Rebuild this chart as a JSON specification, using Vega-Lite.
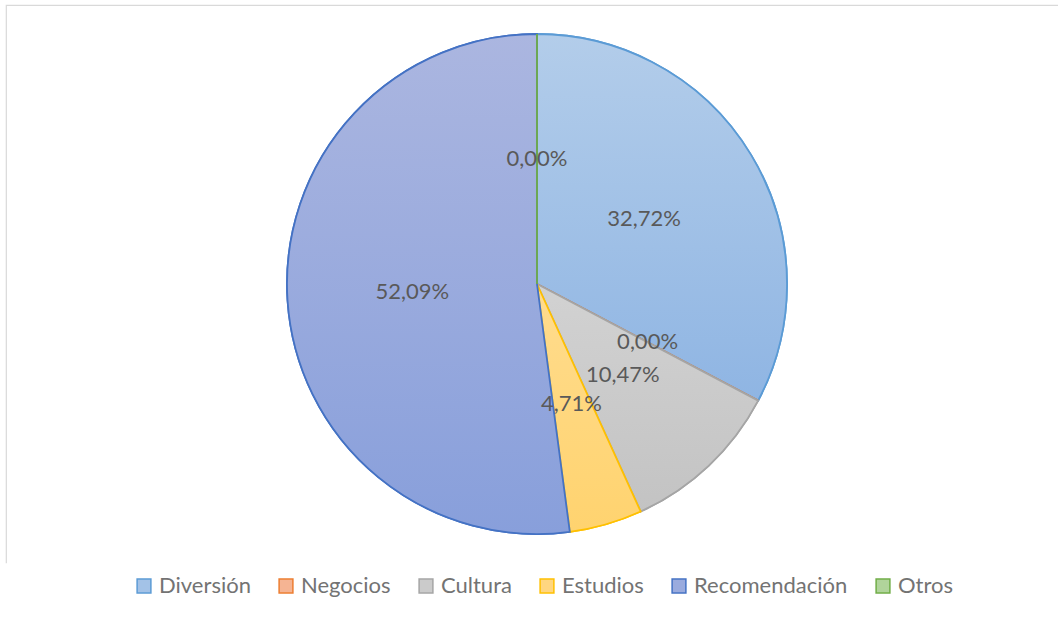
{
  "$schema": "https://vega.github.io/schema/vega-lite/v6.json",
  "width": 1062,
  "height": 558,
  "padding": {"left": 6, "top": 5, "right": 0, "bottom": 58},
  "autosize": {"type": "none"},
  "background": "white",
  "view": {"stroke": "#d9d9d9", "strokeWidth": 1.2, "strokeDash": [1620, 1062, 560, 20]},
  "config": {
    "font": "Lato"
  },
  "data": {
    "values": [
      {"idx": 1, "cat": "Diversión", "value": 32.72, "label": "32,72%"},
      {"idx": 2, "cat": "Negocios", "value": 0, "label": "0,00%"},
      {"idx": 3, "cat": "Cultura", "value": 10.47, "label": "10,47%"},
      {"idx": 4, "cat": "Estudios", "value": 4.71, "label": "4,71%"},
      {"idx": 5, "cat": "Recomendación", "value": 52.09, "label": "52,09%"},
      {"idx": 6, "cat": "Otros", "value": 0, "label": "0,00%"}
    ]
  },
  "encoding": {
    "theta": {"field": "value", "type": "quantitative", "stack": true},
    "order": {"field": "idx", "type": "quantitative"}
  },
  "layer": [
    {
      "mark": {"type": "arc", "outerRadius": 250, "strokeWidth": 1.8},
      "encoding": {
        "fill": {
          "field": "cat",
          "type": "nominal",
          "sort": null,
          "scale": {
            "domain": ["Diversión", "Negocios", "Cultura", "Estudios", "Recomendación", "Otros"],
            "range": ["#a3c2e7", "#f5b493", "#cbcbcb", "#ffd680", "#9aabde", "#b0d49b"]
          },
          "legend": {
            "title": null,
            "orient": "none",
            "legendX": 127,
            "legendY": 570,
            "direction": "horizontal",
            "symbolType": "square",
            "symbolSize": 190,
            "symbolStrokeWidth": 1.5,
            "labelFontSize": 22,
            "labelColor": "#737373",
            "labelFont": "Lato",
            "labelOffset": 4,
            "columnPadding": 24,
            "padding": 0
          }
        },
        "stroke": {
          "field": "cat",
          "type": "nominal",
          "sort": null,
          "scale": {
            "domain": ["Diversión", "Negocios", "Cultura", "Estudios", "Recomendación", "Otros"],
            "range": ["#5b9bd5", "#ed7d31", "#a5a5a5", "#ffc000", "#4472c4", "#70ad47"]
          }
        }
      }
    },
    {
      "mark": {"type": "arc", "outerRadius": 250, "strokeWidth": 1.8},
      "encoding": {
        "fill": {
          "condition": [
            {"test": "datum.cat === 'Diversión'", "value": {"gradient": "linear", "x1": 0, "y1": 0, "x2": 0, "y2": 1, "stops": [{"offset": 0, "color": "#b3cdea"}, {"offset": 1, "color": "#8fb5e3"}]}},
            {"test": "datum.cat === 'Negocios'", "value": {"gradient": "linear", "x1": 0, "y1": 0, "x2": 0, "y2": 1, "stops": [{"offset": 0, "color": "#f7c0a4"}, {"offset": 1, "color": "#f3a77f"}]}},
            {"test": "datum.cat === 'Cultura'", "value": {"gradient": "linear", "x1": 0, "y1": 0, "x2": 0, "y2": 1, "stops": [{"offset": 0, "color": "#d2d2d2"}, {"offset": 1, "color": "#c3c3c3"}]}},
            {"test": "datum.cat === 'Estudios'", "value": {"gradient": "linear", "x1": 0, "y1": 0, "x2": 0, "y2": 1, "stops": [{"offset": 0, "color": "#ffdc8e"}, {"offset": 1, "color": "#ffd36f"}]}},
            {"test": "datum.cat === 'Recomendación'", "value": {"gradient": "linear", "x1": 0, "y1": 0, "x2": 0, "y2": 1, "stops": [{"offset": 0, "color": "#abb6e0"}, {"offset": 1, "color": "#889fdb"}]}}
          ],
          "value": {"gradient": "linear", "x1": 0, "y1": 0, "x2": 0, "y2": 1, "stops": [{"offset": 0, "color": "#b9d9a8"}, {"offset": 1, "color": "#a5cf8c"}]}
        },
        "stroke": {
          "field": "cat",
          "type": "nominal",
          "sort": null
        }
      }
    },
    {
      "mark": {"type": "text", "radius": 125, "fontSize": 22, "font": "Lato", "color": "#595959", "align": "center", "baseline": "middle"},
      "encoding": {
        "text": {"field": "label", "type": "nominal"}
      }
    }
  ]
}
